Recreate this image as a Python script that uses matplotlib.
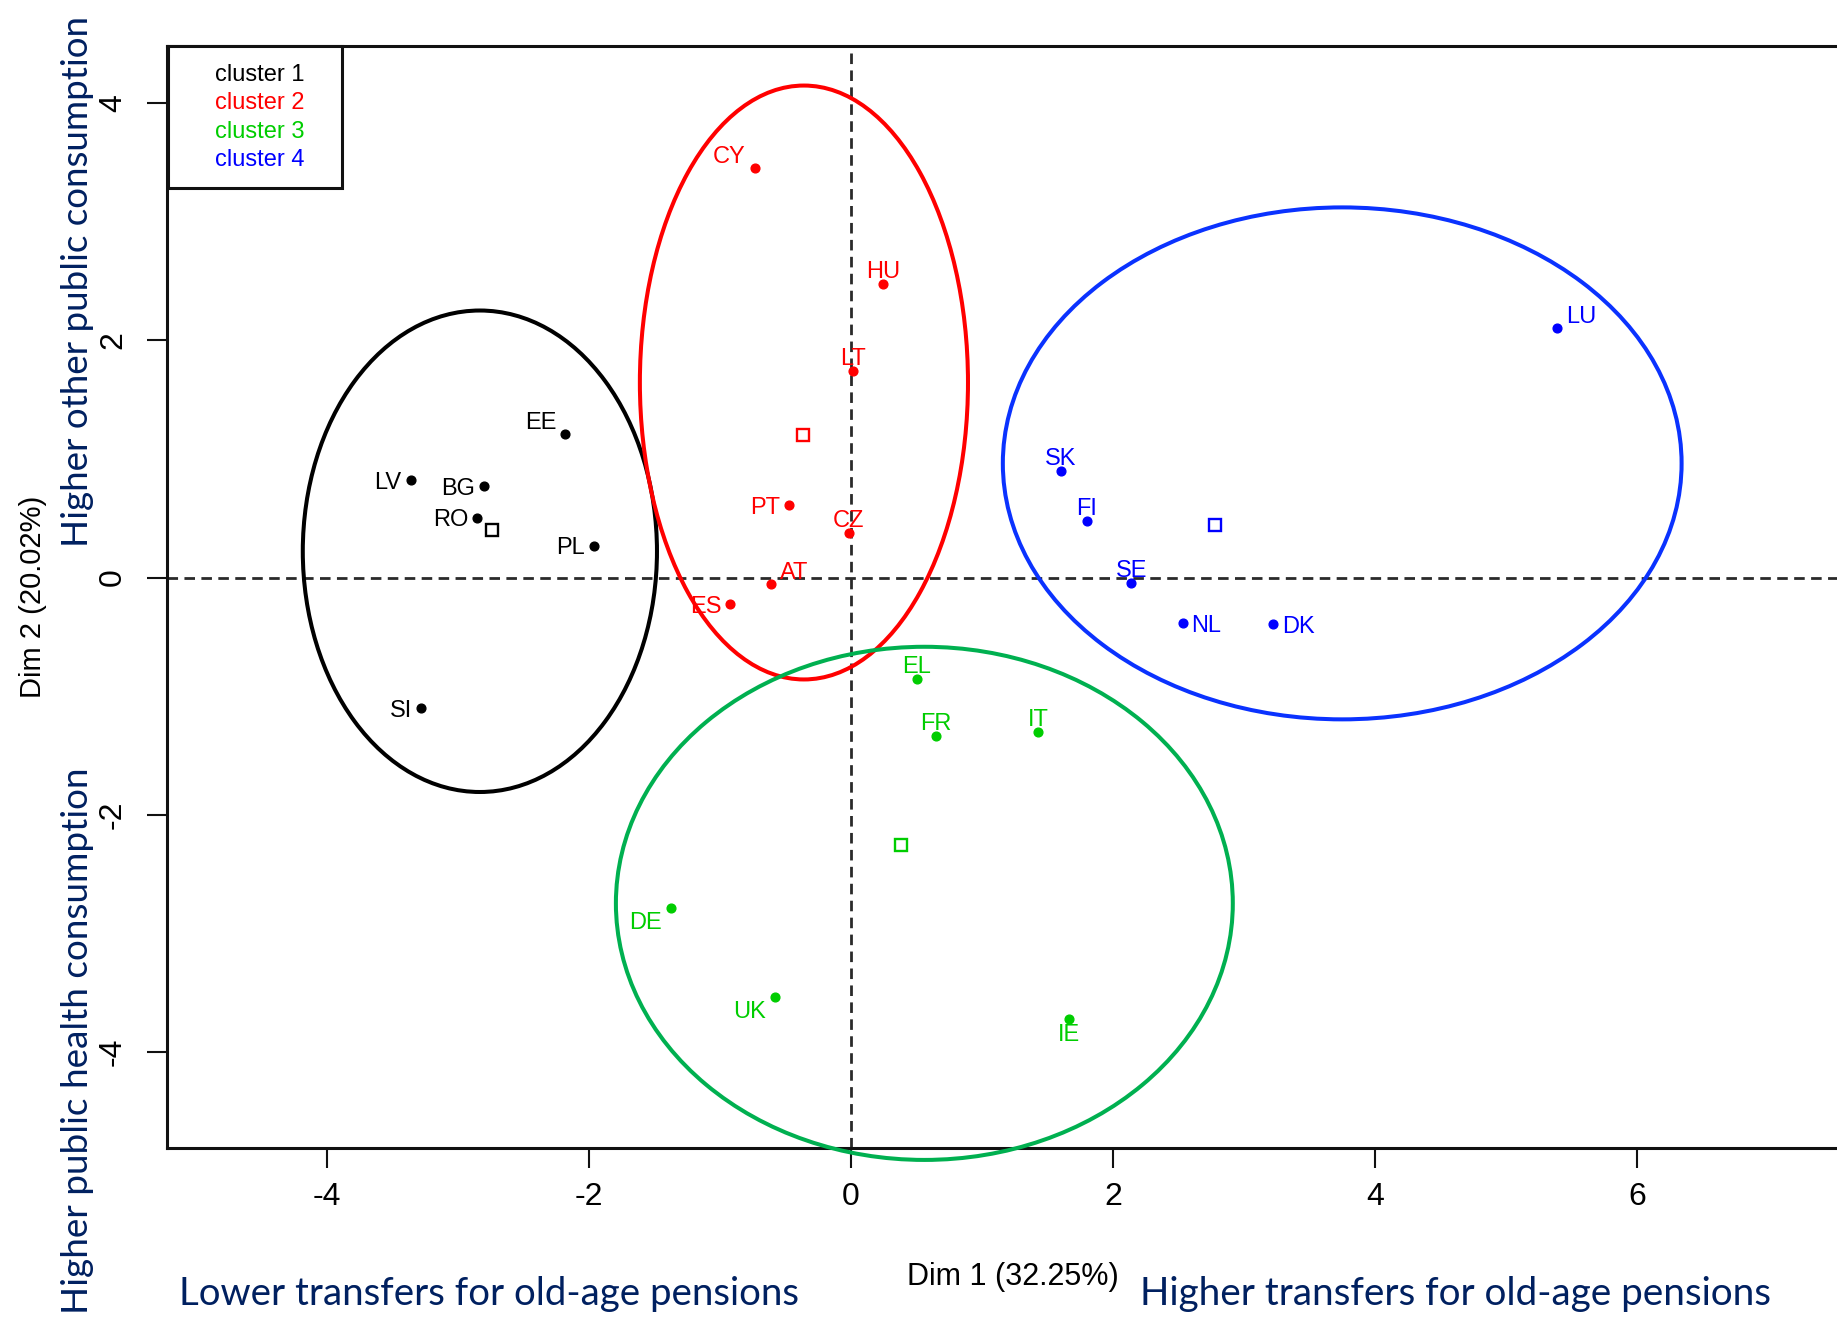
import matplotlib
matplotlib.use("Agg")
import matplotlib.pyplot as plt
from matplotlib.patches import Ellipse, Rectangle

plt.rcParams['axes.unicode_minus'] = False

# ---------------- data ----------------
c1_names = ['EE', 'LV', 'BG', 'RO', 'PL', 'SI']
c1_dim1 = [-2.18, -3.36, -2.80, -2.85, -1.96, -3.28]
c1_dim2 = [1.21, 0.82, 0.77, 0.505, 0.27, -1.10]

c2_names = ['CY', 'HU', 'LT', 'PT', 'CZ', 'AT', 'ES']
c2_dim1 = [-0.735, 0.245, 0.013, -0.47, -0.015, -0.613, -0.92]
c2_dim2 = [3.45, 2.476, 1.745, 0.612, 0.373, -0.054, -0.223]

c3_names = ['EL', 'FR', 'IT', 'DE', 'UK', 'IE']
c3_dim1 = [0.505, 0.652, 1.428, -1.376, -0.577, 1.662]
c3_dim2 = [-0.855, -1.333, -1.304, -2.783, -3.534, -3.722]

c4_names = ['LU', 'SK', 'FI', 'SE', 'NL', 'DK']
c4_dim1 = [5.39, 1.604, 1.802, 2.14, 2.532, 3.222]
c4_dim2 = [2.107, 0.899, 0.477, -0.048, -0.38, -0.391]

# cluster centres (open squares)
centre_dim1 = [-2.74, -0.363, 0.382, 2.776]
centre_dim2 = [0.40, 1.205, -2.255, 0.441]

# hand-drawn cluster ellipses (centre x, centre y, width, height)
ell_cx = [-2.831, -0.358, 0.561, 3.75]
ell_cy = [0.222, 1.645, -2.747, 0.963]
ell_w = [2.703, 2.504, 4.708, 5.18]
ell_h = [4.06, 5.008, 4.327, 4.317]

legend_labels = ['cluster 1', 'cluster 2', 'cluster 3', 'cluster 4']
xticks = [-4, -2, 0, 2, 4, 6]
yticks = [-4, -2, 0, 2, 4]

# ---------------- style / layout ----------------
pt_colors = ['#000000', '#FF0000', '#00CD00', '#0000FF']
ell_colors = ['#000000', '#FF0000', '#00B050', '#0A32FF']
navy = '#002060'
label_font = ['Liberation Sans', 'DejaVu Sans']

c1_pos = ['TL', 'L', 'L', 'L', 'L', 'L']
c2_pos = ['TL', 'T', 'T', 'L', 'T', 'TR', 'L']
c3_pos = ['T', 'T', 'T', 'BL', 'BL', 'B']
c4_pos = ['TR', 'T', 'T', 'T', 'R', 'R']
# offsets in pixels (dx, dy of baseline, ha)
pos_off = {'L': (-9, -8.5, 'right'), 'R': (9, -9, 'left'),
           'T': (0, 6, 'center'), 'B': (0, -22, 'center'),
           'TL': (-9, 5, 'right'), 'TR': (9, 5, 'left'),
           'BL': (-9, -21.5, 'right')}

W, H = 1837, 1319
fig = plt.figure(figsize=(W / 100, H / 100), dpi=100)
ax = fig.add_axes([0.09118, 0.12964, 0.92052, 0.83571])
ax.set_xlim(-5.215, 7.69)
ax.set_ylim(-4.81, 4.485)

for s in ax.spines.values():
    s.set_linewidth(2.2)
    s.set_color('#111111')

ax.axhline(0, color='#2a2a2a', lw=2.0, ls=(0, (3.8, 2.3)), zorder=1)
ax.axvline(0, color='#2a2a2a', lw=2.0, ls=(0, (3.8, 2.3)), zorder=1)

clusters = [(c1_names, c1_dim1, c1_dim2, c1_pos),
            (c2_names, c2_dim1, c2_dim2, c2_pos),
            (c3_names, c3_dim1, c3_dim2, c3_pos),
            (c4_names, c4_dim1, c4_dim2, c4_pos)]

for k, (names, xs, ys, poss) in enumerate(clusters):
    col = pt_colors[k]
    ax.plot(xs, ys, 'o', color=col, ms=6.3, mec=col, zorder=3, clip_on=False)
    for n, x, y, p in zip(names, xs, ys, poss):
        dx, dy, ha = pos_off[p]
        ax.annotate(n, (x, y), xytext=(dx * 0.72, dy * 0.72), textcoords='offset points',
                    ha=ha, va='baseline', color=col, fontsize=17, family=label_font, zorder=4)
    ax.plot([centre_dim1[k]], [centre_dim2[k]], 's', ms=9, mfc='none', mec=col, mew=1.7, zorder=3)
    ax.add_patch(Ellipse((ell_cx[k], ell_cy[k]), ell_w[k], ell_h[k], fill=False,
                         ec=ell_colors[k], lw=2.9, clip_on=False, zorder=5))

ax.set_xticks(xticks)
ax.set_yticks(yticks)
ax.set_xticklabels([str(v) for v in xticks])
ax.set_yticklabels([str(v) for v in yticks])
ax.tick_params(direction='out', length=14.4, width=1.5, labelsize=23, color='#111111')
ax.tick_params(axis='x', pad=10)
ax.tick_params(axis='y', pad=14, labelrotation=90)
for lbl in ax.get_xticklabels() + ax.get_yticklabels():
    lbl.set_family(label_font)
for lbl in ax.get_yticklabels():
    lbl.set_va('center')

ax.set_xlabel('Dim 1 (32.25%)', fontsize=22, family=label_font)
ax.xaxis.set_label_coords(0.5, -0.117)
ax.xaxis.label.set_va('center')
ax.set_ylabel('Dim 2 (20.02%)', fontsize=21, family=label_font)
ax.yaxis.set_label_coords(-0.0795, 0.5)
ax.yaxis.label.set_va('center')

# legend box (text only, coloured)
def fx(px):
    return px / W

def fy(py):
    return 1 - py / H

fig.patches.append(Rectangle((fx(167.5), fy(187.7)), fx(341.7) - fx(167.5), fy(45.7) - fy(187.7),
                             transform=fig.transFigure, fill=True, fc='white', ec='#111111', lw=2.2,
                             zorder=6))
for i, lab in enumerate(legend_labels):
    fig.text(fx(215), fy(75 + 28.3 * i), lab, color=pt_colors[i], fontsize=17,
             family=label_font, ha='left', va='center', zorder=7)

# explanatory annotations, sized to the span they occupy in the reference
fig.canvas.draw()
renderer = fig.canvas.get_renderer()
ann_font = ['Lato', 'DejaVu Sans']


def fitted_text(x, y, s, span, rotation=0):
    t = fig.text(x, y, s, fontsize=20, family=ann_font, color=navy, rotation=rotation,
                 rotation_mode='anchor', ha='left', va='baseline')
    bb = t.get_window_extent(renderer)
    length = bb.height if rotation else bb.width
    t.set_fontsize(20 * span / length)
    return t


fitted_text(fx(179.3), fy(1305), 'Lower transfers for old-age pensions', 619)
fitted_text(fx(1140), fy(1305), 'Higher transfers for old-age pensions', 631)
fitted_text(fx(88), fy(547), 'Higher other public consumption', 533, rotation=90)
fitted_text(fx(88), fy(1314.5), 'Higher public health consumption', 548, rotation=90)

fig.savefig('out.png', dpi=100)
